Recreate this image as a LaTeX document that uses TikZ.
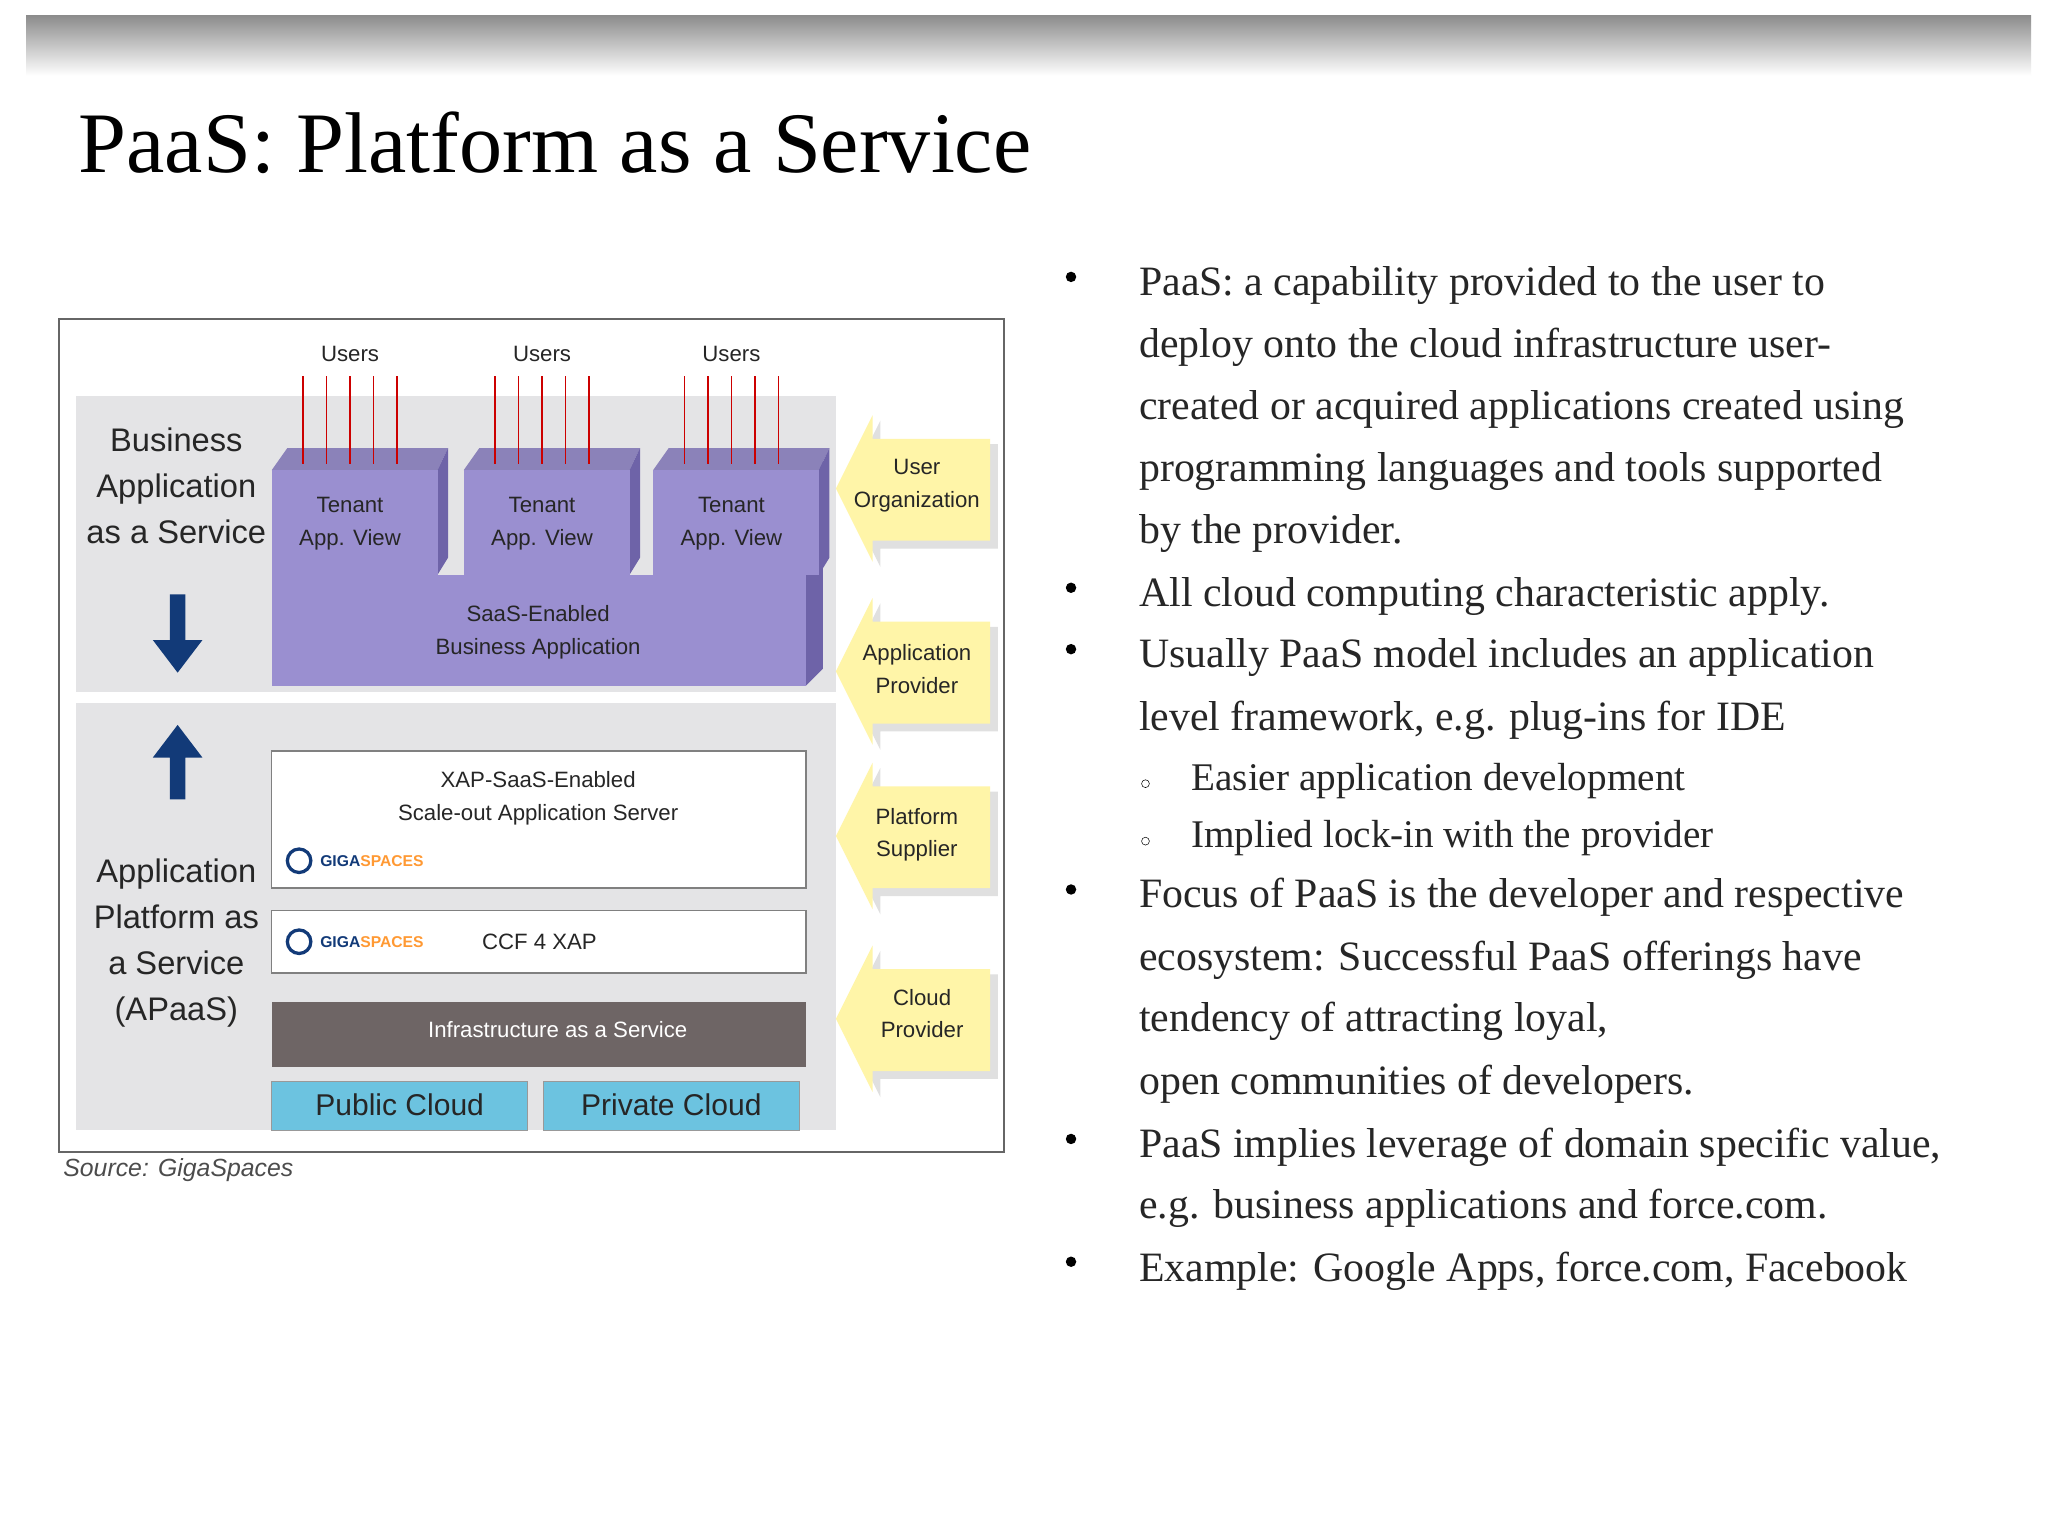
\documentclass[tikz,border=0pt]{standalone}
\usepackage{fontspec}
\setmainfont{Liberation Serif}
\newfontfamily\dsans{Liberation Sans}
\definecolor{panel}{HTML}{E4E4E6}
\definecolor{purp}{HTML}{9A8FD0}
\definecolor{purpd}{HTML}{6E63A8}
\definecolor{yel}{HTML}{FFF5A8}
\definecolor{infra}{HTML}{6E6565}
\definecolor{cloud}{HTML}{6CC3E0}
\definecolor{darrow}{HTML}{123A78}
\begin{document}
\begin{tikzpicture}[x=1pt,y=-1pt,
 lbl/.style={font=\dsans\fontsize{25}{35}\selectfont,align=center,text=black!85},
 sm/.style={font=\dsans\fontsize{17}{25}\selectfont,align=center,text=black!85},
 bt/.style={anchor=base west,font=\fontsize{32}{36}\selectfont,text=black!85,inner sep=0pt},
 bul/.style={circle,fill=black,inner sep=0pt,minimum size=8pt},
 sub/.style={circle,draw=black,inner sep=0pt,minimum size=6pt}]
\useasboundingbox (0,0) rectangle (1568,1176);
\fill[white] (0,0) rectangle (1568,1176);
\shade[top color=black!45,bottom color=white] (20,12) rectangle (1555,58);
\node[anchor=base west,inner sep=0pt,font=\fontsize{66}{70}\selectfont] (title) at (60,132) {PaaS: Platform as a Service};
% diagram
\draw[black!60,line width=1.5pt,fill=white] (45,244) rectangle (769,882);
\fill[panel] (58,303) rectangle (640,530);
\fill[panel] (58,538) rectangle (640,865);
\node[lbl] (baas) at (135,372) {Business\\Application\\as a Service};
\node[lbl] (apaas) at (135,722) {Application\\Platform as\\a Service\\(APaaS)};
\fill[darrow] (130,455) -- (142,455) -- (142,490) -- (155,490) -- (136,515) -- (117,490) -- (130,490) -- cycle;
\fill[darrow] (130,612) -- (142,612) -- (142,580) -- (155,580) -- (136,555) -- (117,580) -- (130,580) -- cycle;
% purple block
\fill[purpd] (617,360) -- (630,345) -- (630,512) -- (617,525) -- cycle;
\fill[purp] (208,440) rectangle (617,525);
\foreach \x/\n in {208/t1,355/t2,500/t3}{
  \fill[purpd!80] (\x,360) -- (\x+12,343) -- (\x+135,343) -- (\x+127,360) -- cycle;
  \fill[purpd] (\x+127,360) -- (\x+135,343) -- (\x+135,427) -- (\x+127,440) -- cycle;
  \fill[purp] (\x,360) rectangle (\x+127,440);
  \node[sm] (\n) at (\x+60,401) {Tenant\\App. View};
  \node[sm] (u\n) at (\x+60,271) {Users};
  \foreach \k in {0,...,4}{\draw[red!80!black,line width=1.2pt] (\x+24+\k*18,288) -- (\x+24+\k*18,355);}
}
\node[sm] (saas) at (412,484) {SaaS-Enabled\\Business Application};
% yellow arrows
\foreach \cy/\n in {374/a1,514/a2,640/a3,780/a4}{
  \fill[black!12] (646,\cy+4) -- (674,\cy-52) -- (674,\cy-34) -- (764,\cy-34) -- (764,\cy+46) -- (674,\cy+46) -- (674,\cy+60) -- cycle;
  \fill[yel] (640,\cy) -- (668,\cy-56) -- (668,\cy-38) -- (758,\cy-38) -- (758,\cy+40) -- (668,\cy+40) -- (668,\cy+56) -- cycle;
}
\node[sm] (l1) at (702,372) {User\\Organization};
\node[sm] (l2) at (702,512) {Application\\Provider};
\node[sm] (l3) at (702,639) {Platform\\Supplier};
\node[sm] (l4) at (706,776) {Cloud\\Provider};
% platform
\draw[black!50,line width=1.2pt,fill=white] (208,575) rectangle (617,680);
\node[sm] (xap) at (412,611) {XAP-SaaS-Enabled\\Scale-out Application Server};
\draw[darrow,line width=2.5pt] (229,659) circle (9pt);
\node[anchor=west,font=\dsans\bfseries\fontsize{12}{12}\selectfont,inner sep=0pt] (g1) at (245,659) {\textcolor{darrow}{GIGA}\textcolor{orange!80}{SPACES}};
\draw[black!50,line width=1.2pt,fill=white] (208,697) rectangle (617,745);
\draw[darrow,line width=2.5pt] (229,721) circle (9pt);
\node[anchor=west,font=\dsans\bfseries\fontsize{12}{12}\selectfont,inner sep=0pt] (g2) at (245,721) {\textcolor{darrow}{GIGA}\textcolor{orange!80}{SPACES}};
\node[sm] (ccf) at (413,721) {CCF 4 XAP};
\fill[infra] (208,767) rectangle (617,817);
\node[sm,text=white] (iaas) at (427,788) {Infrastructure as a Service};
\draw[black!40,fill=cloud] (208,828) rectangle (404,865);
\draw[black!40,fill=cloud] (416,828) rectangle (612,865);
\node[lbl,font=\dsans\fontsize{23}{28}\selectfont] (pub) at (306,846) {Public Cloud};
\node[lbl,font=\dsans\fontsize{23}{28}\selectfont] (priv) at (514,846) {Private Cloud};
\node[anchor=west,font=\dsans\itshape\fontsize{19}{22}\selectfont,text=black!70] (src) at (45,896) {Source: GigaSpaces};
% bullets
\foreach \y in {216,454,501,685,876,970} \node[bul] at (820,\y-4) {};
\foreach \y in {595,639} \node[sub] at (877,\y+5) {};
\node[bt] at (872,226) {PaaS: a capability provided to the user to};
\node[bt] at (872,274) {deploy onto the cloud infrastructure user-};
\node[bt] at (872,321) {created or acquired applications created using};
\node[bt] at (872,369) {programming languages and tools supported};
\node[bt] at (872,416) {by the provider.};
\node[bt] at (872,464) {All cloud computing characteristic apply.};
\node[bt] at (872,511) {Usually PaaS model includes an application};
\node[bt] at (872,559) {level framework, e.g. plug-ins for IDE};
\node[bt,font=\fontsize{30}{34}\selectfont] at (912,605) {Easier application development};
\node[bt,font=\fontsize{30}{34}\selectfont] at (912,649) {Implied lock-in with the provider};
\node[bt] at (872,695) {Focus of PaaS is the developer and respective};
\node[bt] at (872,743) {ecosystem: Successful PaaS offerings have};
\node[bt] at (872,790) {tendency of attracting loyal,};
\node[bt] at (872,838) {open communities of developers.};
\node[bt] at (872,886) {PaaS implies leverage of domain specific value,};
\node[bt] at (872,933) {e.g. business applications and force.com.};
\node[bt] at (872,981) {Example: Google Apps, force.com, Facebook};
\end{tikzpicture}
\end{document}
